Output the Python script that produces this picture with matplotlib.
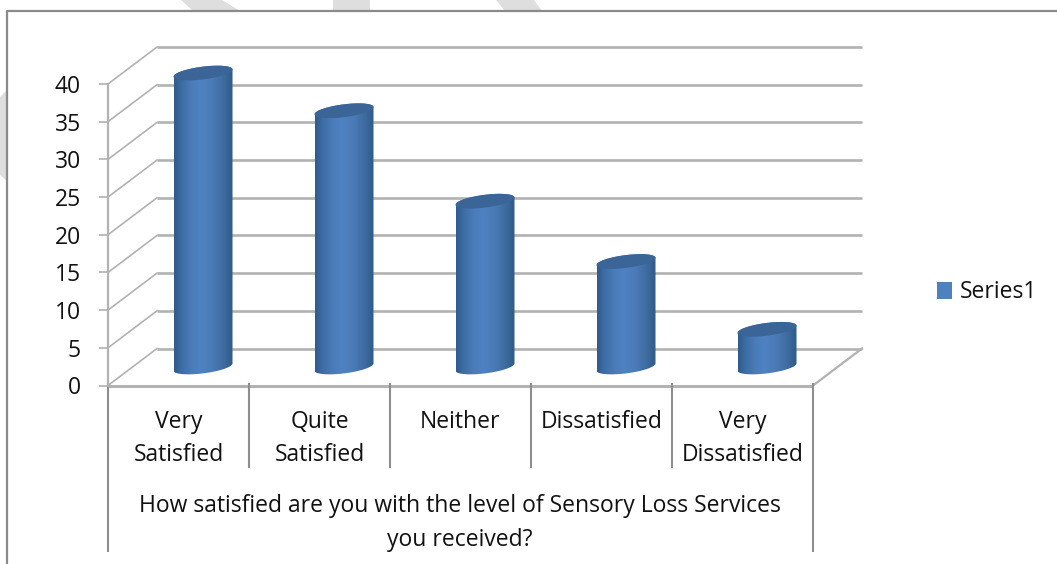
import matplotlib
matplotlib.use("Agg")
import matplotlib.pyplot as plt
import numpy as np
from matplotlib.colors import LinearSegmentedColormap
from matplotlib.patches import Patch, Polygon

W, H = 1057, 564

categories = ["Very\nSatisfied", "Quite\nSatisfied", "Neither", "Dissatisfied", "Very\nDissatisfied"]
values = [39, 34, 22, 14, 5]
y_ticks = [0, 5, 10, 15, 20, 25, 30, 35, 40]
group_label = "How satisfied are you with the level of Sensory Loss Services\nyou received?"
series_name = "Series1"

plt.rcParams['font.family'] = ['Open Sans', 'DejaVu Sans']

GRID = '#b2b2b2'
AXIS = '#8e8e8e'
TEXT = '#111111'
FS = 16.5
LINE_GAP = 1.55

fig = plt.figure(figsize=(W / 100, H / 100), dpi=100)

# background layer in pixel units: page stripes and the chart frame
bg = fig.add_axes([0, 0, 1, 1])
bg.set_xlim(0, W)
bg.set_ylim(H, 0)
bg.axis('off')
for pts in ([(181, 0), (222, 0), (240, 11), (193, 11)],
            [(333, 0), (370, 0), (370, 11), (333, 11)],
            [(496, 0), (534, 0), (542, 11), (505, 11)],
            [(0, 97), (7, 90), (7, 181), (0, 175)]):
    bg.add_patch(Polygon(pts, closed=True, fc='#dedede', ec='none'))
bg.plot([7, 7, W], [H, 11, 11], color='#8a8a8a', lw=1.6, solid_capstyle='butt')

# front plane of the plot, x in category slots and y in chart values
left, right, bottom, top = 108, 813, 385.5, 84
ax = fig.add_axes([left / W, 1 - bottom / H, (right - left) / W, (bottom - top) / H])
ax.patch.set_alpha(0)
ax.set_xlim(0, 5)
ax.set_ylim(0, 40)
px_x = 5 / (right - left)
px_y = 40 / (bottom - top)

# depth of the 3d box
depth_x = 49 * px_x
depth_y = 37 * px_y

for v in y_ticks:
    ax.plot([depth_x, 5 + depth_x], [v + depth_y] * 2, color=GRID, lw=1.9, zorder=1, clip_on=False,
            solid_capstyle='butt')
    ax.plot([0, depth_x], [v, v + depth_y], color=GRID, lw=1.2, zorder=1, clip_on=False)
ax.plot([5, 5 + depth_x], [0, depth_y], color=GRID, lw=1.6, zorder=1, clip_on=False)
ax.plot([0, 5], [0, 0], color=GRID, lw=2.2, zorder=1, clip_on=False, solid_capstyle='butt')

# cylinders
shade = LinearSegmentedColormap.from_list('cyl', [(0, '#2f5a8c'), (0.12, '#3d6ca4'), (0.3, '#4a7cb9'),
                                                  (0.45, '#4f82c3'), (0.65, '#4b7bb7'), (0.85, '#3d6b9f'),
                                                  (1, '#2f5a88')])
half_w = 29.5 * px_x
ell_b = 6.4 * px_y
ell_tilt = 3.6 * px_y
t = np.linspace(0, 2 * np.pi, 121)
grad = np.linspace(0, 1, 256).reshape(1, -1)

for i, v in enumerate(values):
    cx = i + 0.5 + depth_x / 2
    base = depth_y / 2
    top_y = v + depth_y / 2
    # body outline: upper half of the top ellipse, lower half of the base ellipse
    up = np.linspace(np.pi, 0, 61)
    low = np.linspace(0, -np.pi, 61)
    xs = np.concatenate([cx + half_w * np.cos(up), cx + half_w * np.cos(low)])
    ys = np.concatenate([top_y + ell_b * np.sin(up) + ell_tilt * np.cos(up),
                         base + ell_b * np.sin(low) + ell_tilt * np.cos(low)])
    body = Polygon(np.column_stack([xs, ys]), closed=True, fc='none', ec='none', zorder=3, clip_on=False)
    ax.add_patch(body)
    im = ax.imshow(grad, cmap=shade, aspect='auto', zorder=3, interpolation='bilinear',
                   extent=[cx - half_w, cx + half_w, base - 2, top_y + 2])
    # tall bars rise past the top of the front plane
    im.set_clip_box(fig.bbox)
    im.set_clip_path(body)
    cap = np.column_stack([cx + half_w * np.cos(t), top_y + ell_b * np.sin(t) + ell_tilt * np.cos(t)])
    ax.add_patch(Polygon(cap, closed=True, fc='#3a6596', ec='none', zorder=4, clip_on=False))

ax.set_xlim(0, 5)
ax.set_ylim(0, 40)

# axes
for name in ('top', 'right', 'bottom'):
    ax.spines[name].set_visible(False)
ax.spines['left'].set_color(GRID)
ax.spines['left'].set_linewidth(1.6)
ax.set_xticks([])
ax.set_yticks(y_ticks)
ax.tick_params(axis='y', length=6.5, width=1.2, color=GRID, labelsize=FS, labelcolor=TEXT, pad=13)

# multi-level category axis below the floor
sep_end = -(468 - bottom) * px_y
out_end = -(552 - bottom) * px_y
for k in range(0, 6):
    low_end = out_end if k in (0, 5) else sep_end
    ax.plot([k, k], [0.3, low_end], color=AXIS, lw=1.5, clip_on=False, zorder=2, solid_capstyle='butt')

for i, lab in enumerate(categories):
    # single line labels sit on the first text row
    yc = -(422.5 - bottom) * px_y if '\n' not in lab else -(438.5 - bottom) * px_y
    ax.text(i + 0.5, yc, lab, ha='center', va='center', fontsize=FS, color=TEXT, linespacing=LINE_GAP)
ax.text(2.5 - 0.5 * px_x, -(523 - bottom) * px_y, group_label, ha='center', va='center', fontsize=FS,
        color=TEXT, linespacing=LINE_GAP)

handle = Patch(fc='#4f81bd', ec='none', label=series_name)
fig.legend(handles=[handle], loc='center left', bbox_to_anchor=(916.4 / W, 1 - 292.5 / H), frameon=False,
           fontsize=FS, handlelength=0.65, handleheight=0.7, handletextpad=0.35, labelcolor=TEXT)

fig.savefig('out.png', dpi=100)
